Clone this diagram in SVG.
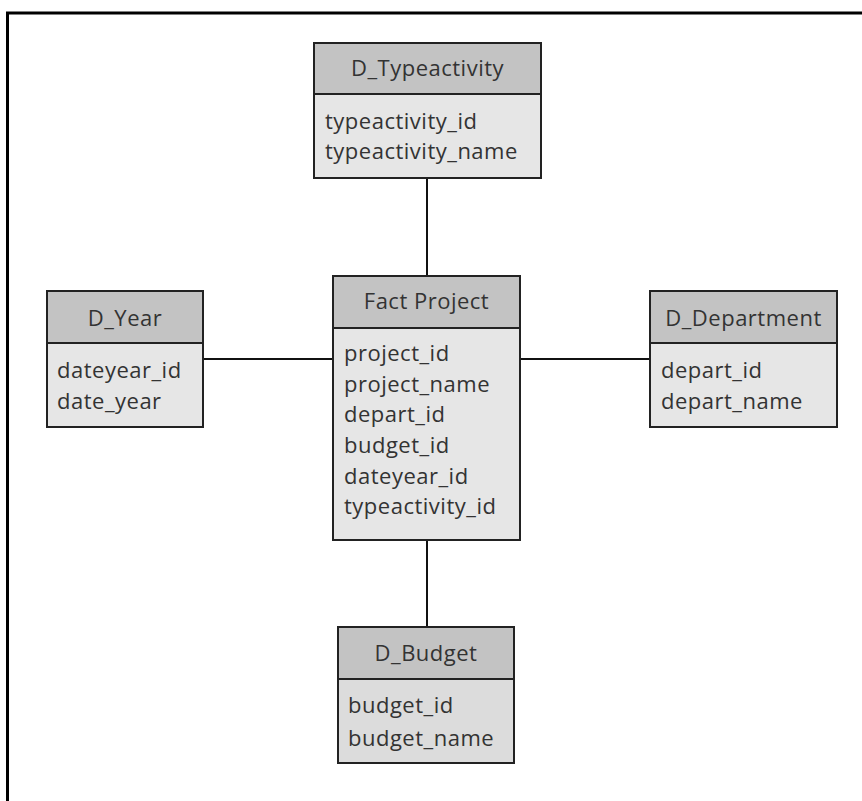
<svg xmlns="http://www.w3.org/2000/svg" width="862" height="801" viewBox="0 0 862 801">
  <style>
    .hd { fill: #c3c3c3; stroke: #222; stroke-width: 2; }
    .bd { fill: #e6e6e6; stroke: #222; stroke-width: 2; }
    .t { font-family: "Open Sans", "Noto Sans", sans-serif; font-size: 22px; letter-spacing: 0.5px; fill: #333; }
    .c { text-anchor: middle; }
    .ln { stroke: #111; stroke-width: 2; fill: none; }
  </style>
  <rect width="862" height="801" fill="#fff"/>
  <!-- page frame: top and left edges -->
  <path d="M7.5 801 V13 H862" fill="none" stroke="#000" stroke-width="3"/>

  <g id="connectors">
    <line class="ln" x1="427" y1="178" x2="427" y2="276"/>
    <line class="ln" x1="427" y1="540" x2="427" y2="627"/>
    <line class="ln" x1="203" y1="359" x2="333" y2="359"/>
    <line class="ln" x1="520" y1="359" x2="650" y2="359"/>
  </g>

  <g id="d_typeactivity">
    <rect class="bd" x="314" y="94" width="227" height="84"/>
    <rect class="hd" x="314" y="43" width="227" height="51"/>
    <text class="t c" x="427.5" y="76">D_Typeactivity</text>
    <text class="t" x="325" y="129">typeactivity_id</text>
    <text class="t" x="325" y="159">typeactivity_name</text>
  </g>

  <g id="d_year">
    <rect class="bd" x="47" y="343" width="156" height="84"/>
    <rect class="hd" x="47" y="291" width="156" height="52"/>
    <text class="t c" x="125" y="326">D_Year</text>
    <text class="t" x="57" y="378">dateyear_id</text>
    <text class="t" x="57" y="409">date_year</text>
  </g>

  <g id="fact_project">
    <rect class="bd" x="333" y="328" width="187" height="212"/>
    <rect class="hd" x="333" y="276" width="187" height="52"/>
    <text class="t c" x="426.5" y="309">Fact Project</text>
    <text class="t" x="344" y="361">project_id</text>
    <text class="t" x="344" y="392">project_name</text>
    <text class="t" x="344" y="422">depart_id</text>
    <text class="t" x="344" y="453">budget_id</text>
    <text class="t" x="344" y="484">dateyear_id</text>
    <text class="t" x="344" y="514">typeactivity_id</text>
  </g>

  <g id="d_department">
    <rect class="bd" x="650" y="343" width="187" height="84"/>
    <rect class="hd" x="650" y="291" width="187" height="52"/>
    <text class="t c" x="743.5" y="326">D_Department</text>
    <text class="t" x="661" y="378">depart_id</text>
    <text class="t" x="661" y="409">depart_name</text>
  </g>

  <g id="d_budget">
    <rect class="bd" x="338" y="679" width="176" height="84" style="fill:#dcdcdc"/>
    <rect class="hd" x="338" y="627" width="176" height="52"/>
    <text class="t c" x="426" y="661">D_Budget</text>
    <text class="t" x="348" y="713">budget_id</text>
    <text class="t" x="348" y="746">budget_name</text>
  </g>
</svg>
